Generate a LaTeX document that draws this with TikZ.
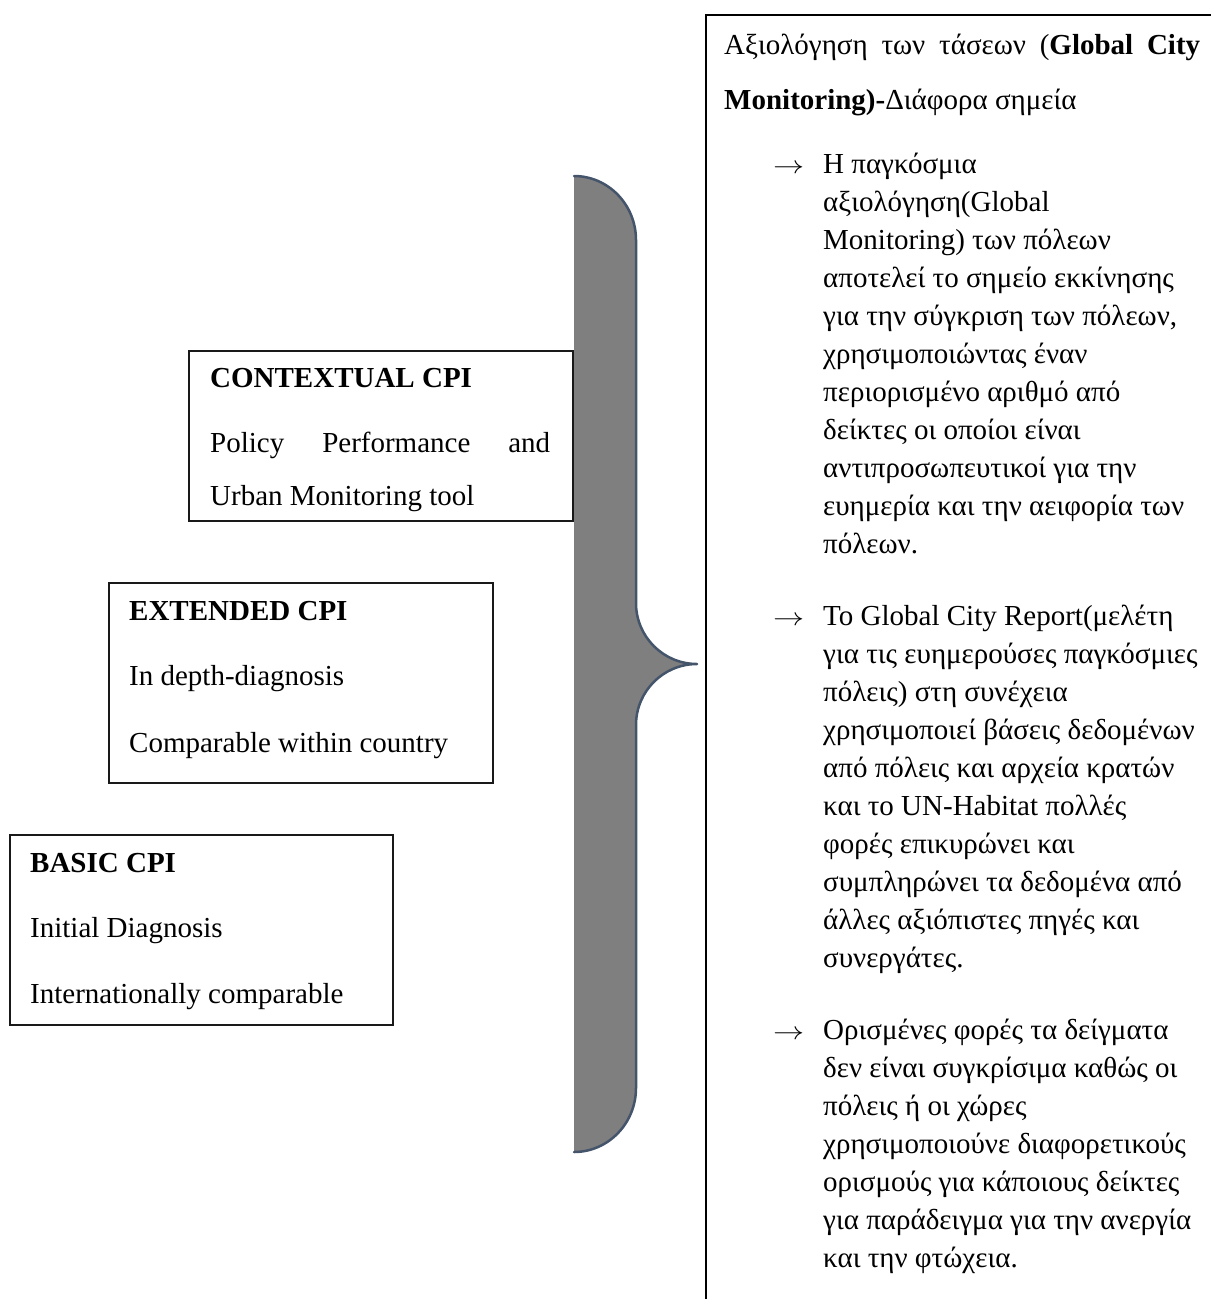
\documentclass[tikz,border=0pt]{standalone}
\usepackage{graphicx}
\usepackage{fontspec}
\setmainfont{Liberation Serif}
\definecolor{braceGray}{HTML}{7F7F7F}
\definecolor{braceEdge}{HTML}{44546A}
\newcommand{\bularrow}{\scalebox{1.25}[1]{$\rightarrow$}}
\begin{document}
\begin{tikzpicture}[x=1pt,y=-1pt,
  txt/.style={anchor=base west, inner sep=0pt, font=\fontsize{29}{35}\selectfont},
  cpibox/.style={draw=black!90, line width=2pt, anchor=north west, inner sep=0pt},
  panelline/.style={draw=black, line width=2.6pt},
  bracefill/.style={fill=braceGray},
  braceline/.style={draw=braceEdge, line width=2.5pt, line cap=round, line join=round}]
\useasboundingbox (0,0) rectangle (1211,1299);

% ---- brace shape ----
\fill[bracefill] (574,176) .. controls (608.2,176) and (636,204.7) .. (636,240)
  -- (636,603) .. controls (636,636.7) and (663.3,664) .. (697,664)
  .. controls (663.3,664) and (636,691.3) .. (636,725)
  -- (636,1088) .. controls (636,1123.3) and (608.2,1152) .. (574,1152) -- cycle;
\draw[braceline] (574,176) .. controls (608.2,176) and (636,204.7) .. (636,240)
  -- (636,603) .. controls (636,636.7) and (663.3,664) .. (697,664)
  .. controls (663.3,664) and (636,691.3) .. (636,725)
  -- (636,1088) .. controls (636,1123.3) and (608.2,1152) .. (574,1152);

% ---- left boxes ----
\node[cpibox, minimum width=384pt, minimum height=170pt] (ctx) at (188,350) {};
\node[txt] (ctx1) at (210,387) {\textbf{CONTEXTUAL CPI}};
\node[txt] (ctx2) at (210,452) {\makebox[340pt][s]{Policy Performance and}};
\node[txt] (ctx3) at (210,505) {Urban Monitoring tool};

\node[cpibox, minimum width=384pt, minimum height=200pt] (ext) at (108,582) {};
\node[txt] (ext1) at (129,620) {\textbf{EXTENDED CPI}};
\node[txt] (ext2) at (129,685) {In depth-diagnosis};
\node[txt] (ext3) at (129,752) {Comparable within country};

\node[cpibox, minimum width=383pt, minimum height=190pt] (bas) at (9,834) {};
\node[txt] (bas1) at (30,872) {\textbf{BASIC CPI}};
\node[txt] (bas2) at (30,937) {Initial Diagnosis};
\node[txt] (bas3) at (30,1003) {Internationally comparable};

% ---- right panel ----
\draw[panelline] (706,1299) -- (706,15) -- (1211,15);
\node[txt] (t1) at (724,54) {\makebox[476pt][s]{Αξιολόγηση των τάσεων (\textbf{Global City}}};
\node[txt] (t2) at (724,109) {\textbf{Monitoring)-}Διάφορα σημεία};

\node[txt] (a1) at (773,173) {\bularrow};
\node[txt] (p1) at (823,173) {Η παγκόσμια};
\node[txt] (p2) at (823,211) {αξιολόγηση(Global};
\node[txt] (p3) at (823,249) {Monitoring) των πόλεων};
\node[txt] (p4) at (823,287) {αποτελεί το σημείο εκκίνησης};
\node[txt] (p5) at (823,325) {για την σύγκριση των πόλεων,};
\node[txt] (p6) at (823,363) {χρησιμοποιώντας έναν};
\node[txt] (p7) at (823,401) {περιορισμένο αριθμό από};
\node[txt] (p8) at (823,439) {δείκτες οι οποίοι είναι};
\node[txt] (p9) at (823,477) {αντιπροσωπευτικοί για την};
\node[txt] (p10) at (823,515) {ευημερία και την αειφορία των};
\node[txt] (p11) at (823,553) {πόλεων.};

\node[txt] (a2) at (773,625) {\bularrow};
\node[txt] (q1) at (823,625) {Το Global City Report(μελέτη};
\node[txt] (q2) at (823,663) {για τις ευημερούσες παγκόσμιες};
\node[txt] (q3) at (823,701) {πόλεις) στη συνέχεια};
\node[txt] (q4) at (823,739) {χρησιμοποιεί βάσεις δεδομένων};
\node[txt] (q5) at (823,777) {από πόλεις και αρχεία κρατών};
\node[txt] (q6) at (823,815) {και το UN-Habitat πολλές};
\node[txt] (q7) at (823,853) {φορές επικυρώνει και};
\node[txt] (q8) at (823,891) {συμπληρώνει τα δεδομένα από};
\node[txt] (q9) at (823,929) {άλλες αξιόπιστες πηγές και};
\node[txt] (q10) at (823,967) {συνεργάτες.};

\node[txt] (a3) at (773,1039) {\bularrow};
\node[txt] (s1) at (823,1039) {Ορισμένες φορές τα δείγματα};
\node[txt] (s2) at (823,1077) {δεν είναι συγκρίσιμα καθώς οι};
\node[txt] (s3) at (823,1115) {πόλεις ή οι χώρες};
\node[txt] (s4) at (823,1153) {χρησιμοποιούνε διαφορετικούς};
\node[txt] (s5) at (823,1191) {ορισμούς για κάποιους δείκτες};
\node[txt] (s6) at (823,1229) {για παράδειγμα για την ανεργία};
\node[txt] (s7) at (823,1267) {και την φτώχεια.};
\end{tikzpicture}
\end{document}
